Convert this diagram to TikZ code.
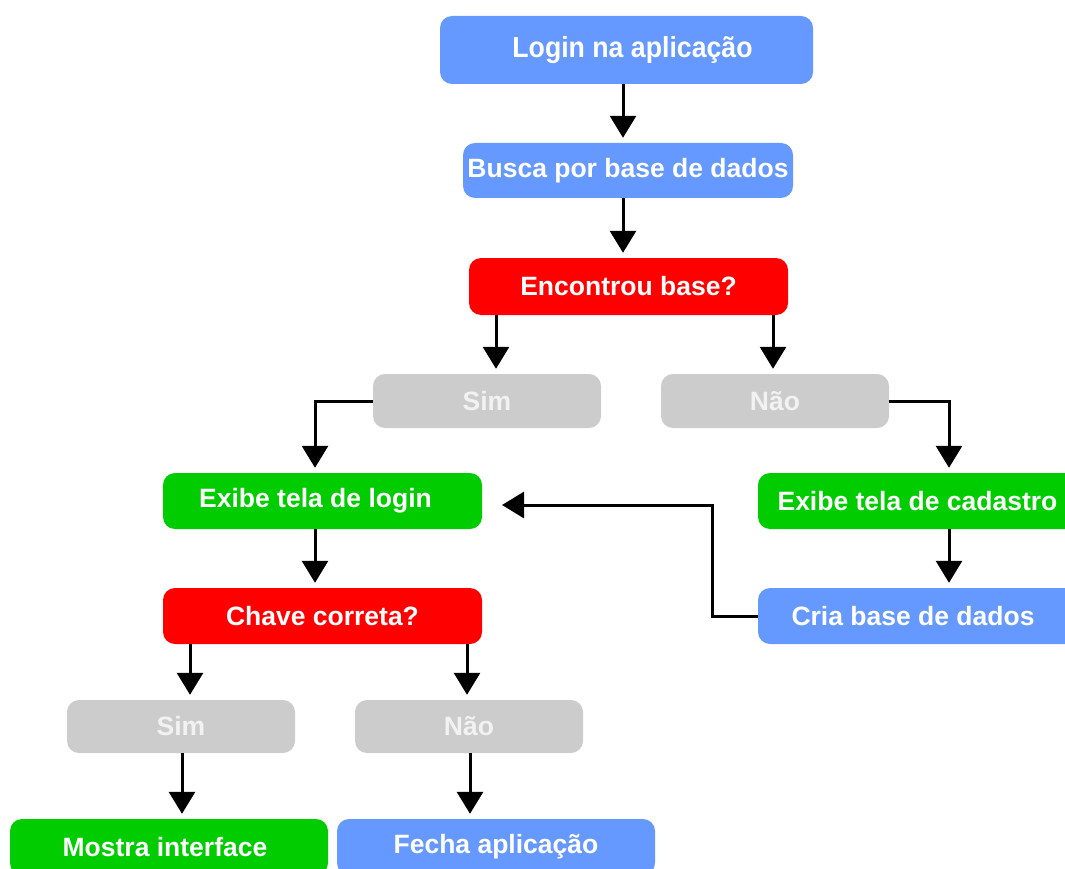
\documentclass[tikz,border=0pt]{standalone}
\usepackage{fontspec}
\usepackage{graphicx}
\setmainfont{Liberation Sans}
\usetikzlibrary{arrows.meta}

\definecolor{boxblue}{HTML}{6699FF}
\definecolor{boxred}{HTML}{FF0000}
\definecolor{boxgreen}{HTML}{00CC00}
\definecolor{boxgray}{HTML}{CCCCCC}
\definecolor{graytext}{HTML}{F2F2F2}

\tikzset{
  box/.style={rounded corners=12pt, inner sep=0pt, text=white,
    font=\bfseries\fontsize{26.5}{30}\selectfont, anchor=center},
  bluebox/.style={box, fill=boxblue},
  redbox/.style={box, fill=boxred},
  greenbox/.style={box, fill=boxgreen},
  graybox/.style={box, fill=boxgray, text=graytext},
  arr/.style={line width=3pt, draw=black,
    -{Triangle[length=22pt,width=26pt]}, shorten >=5pt},
  link/.style={line width=3pt, draw=black}
}

\begin{document}
\begin{tikzpicture}[x=1pt, y=-1pt]
\useasboundingbox (0,0) rectangle (1065,869);
\clip (0,0) rectangle (1065,869);

% process and decision boxes
\node[bluebox, minimum width=373pt, minimum height=68pt] (login) at (626.5,50)
  {\hspace*{12pt}\fontsize{29}{32}\selectfont\scalebox{0.92}[1]{Login na aplicação}};
\node[bluebox, minimum width=330pt, minimum height=55pt] (busca) at (628,170.5) {Busca por base de dados};
\node[redbox, minimum width=319pt, minimum height=57pt] (enc) at (628.5,286.5) {Encontrou base?};
\node[graybox, minimum width=228pt, minimum height=54pt] (sim1) at (487,401) {Sim};
\node[graybox, minimum width=228pt, minimum height=54pt] (nao1) at (775,401) {Não};
\node[greenbox, minimum width=319pt, minimum height=56pt] (exlogin) at (322.5,501) {Exibe tela de login\hspace*{14pt}};
\node[greenbox, minimum width=319pt, minimum height=56pt] (excad) at (917.5,501) {Exibe tela de cadastro};
\node[redbox, minimum width=319pt, minimum height=56pt] (chave) at (322.5,616) {Chave correta?};
\node[bluebox, minimum width=319pt, minimum height=56pt] (cria) at (917.5,616) {Cria base de dados\hspace*{9pt}};
\node[graybox, minimum width=228pt, minimum height=53pt] (sim2) at (181,726.5) {Sim};
\node[graybox, minimum width=228pt, minimum height=53pt] (nao2) at (469,726.5) {Não};
\node[greenbox, minimum width=318pt, minimum height=56pt] (mostra) at (169,847) {Mostra interface\hspace*{8pt}};
\node[bluebox, minimum width=318pt, minimum height=56pt] (fecha) at (496,847) {Fecha aplicação};

% connectors
\draw[arr] (login.south -| 623,0) -- (busca.north -| 623,0);
\draw[arr] (busca.south -| 623,0) -- (enc.north -| 623,0);
\draw[arr] (enc.south -| 496,0) -- (sim1.north -| 496,0);
\draw[arr] (enc.south -| 773,0) -- (nao1.north -| 773,0);
\draw[arr] (sim1.west) -| (exlogin.north -| 315,0);
\draw[arr] (nao1.east) -| (excad.north -| 949,0);
\draw[arr] (exlogin.south -| 315,0) -- (chave.north -| 315,0);
\draw[arr] (excad.south -| 949,0) -- (cria.north -| 949,0);
\coordinate (back) at (502,505);
\draw[arr, shorten >=0pt] (cria.west) -| (712,505) -- (back);
\draw[arr] (chave.south -| 190,0) -- (sim2.north -| 190,0);
\draw[arr] (chave.south -| 467,0) -- (nao2.north -| 467,0);
\draw[arr] (sim2.south -| 182,0) -- (mostra.north -| 182,0);
\draw[arr] (nao2.south -| 470,0) -- (fecha.north -| 470,0);
\end{tikzpicture}
\end{document}
